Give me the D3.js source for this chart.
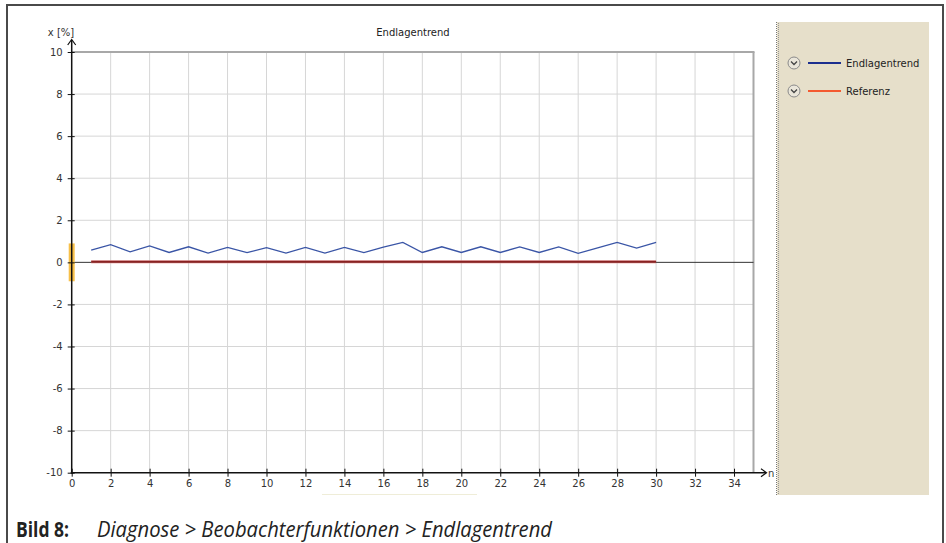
<!DOCTYPE html>
<html><head><meta charset="utf-8">
<script src="https://cdn.jsdelivr.net/npm/d3@7"></script>
<style>html,body{margin:0;padding:0;background:#fff;}svg{display:block;}</style>
</head><body>
<svg id="c" width="946" height="543"></svg>
<script>
const nValues = [1,2,3,4,5,6,7,8,9,10,11,12,13,14,15,16,17,18,19,20,21,22,23,24,25,26,27,28,29,30];
const endlagentrend = [0.58,0.84,0.50,0.78,0.47,0.74,0.44,0.71,0.46,0.70,0.44,0.71,0.44,0.71,0.46,0.72,0.95,0.47,0.74,0.47,0.74,0.47,0.73,0.47,0.73,0.43,0.69,0.95,0.68,0.95];
const referenz = [0.03,0.03,0.03,0.03,0.03,0.03,0.03,0.03,0.03,0.03,0.03,0.03,0.03,0.03,0.03,0.03,0.03,0.03,0.03,0.03,0.03,0.03,0.03,0.03,0.03,0.03,0.03,0.03,0.03,0.03];
const xTicks = [0,2,4,6,8,10,12,14,16,18,20,22,24,26,28,30,32,34];
const yTicks = [-10,-8,-6,-4,-2,0,2,4,6,8,10];
const xDomain = [0,35];
const yDomain = [-10,10];
const bandRange = [-0.9,0.9];
const seriesNames = ["Endlagentrend","Referenz"];
const chartTitle = "Endlagentrend";
const yLabel = "x [%]";
const xLabel = "n";
const captionBold = "Bild 8:";
const captionText = "Diagnose > Beobachterfunktionen > Endlagentrend";

const svg = d3.select("#c");
const font = "'DejaVu Sans', Verdana, sans-serif";
const x = d3.scaleLinear().domain(xDomain).range([71.7, 753.5]);
const y = d3.scaleLinear().domain(yDomain).range([472.7, 52]);
const fmt = d => String(d);

// outer frame
svg.append("path").attr("d","M7,543 V5 H943 V543").attr("fill","none").attr("stroke","#4a4a4a").attr("stroke-width",2);

// right beige panel
svg.append("rect").attr("x",777).attr("y",22).attr("width",152).attr("height",473).attr("fill","#e6dfca");
svg.append("line").attr("x1",776.5).attr("x2",776.5).attr("y1",22).attr("y2",495).attr("stroke","#777").attr("stroke-width",1).attr("stroke-dasharray","1,1");
svg.append("line").attr("x1",778.5).attr("x2",778.5).attr("y1",22).attr("y2",495).attr("stroke","#999").attr("stroke-width",1).attr("stroke-dasharray","1,1").attr("stroke-dashoffset",1);

// grid
const g = svg.append("g");
g.selectAll("line.vg").data(xTicks.filter(d=>d>0)).join("line")
  .attr("x1",d=>x(d)).attr("x2",d=>x(d)).attr("y1",y(10)).attr("y2",y(-10))
  .attr("stroke","#d6d6d6").attr("stroke-width",1);
g.selectAll("line.hg").data(yTicks.filter(d=>d>-10 && d<10 && d!==0)).join("line")
  .attr("x1",x(0)).attr("x2",x(35)).attr("y1",d=>y(d)).attr("y2",d=>y(d))
  .attr("stroke","#d6d6d6").attr("stroke-width",1);
// top & right border of plot
g.append("line").attr("x1",x(0)).attr("x2",x(35)+1).attr("y1",y(10)).attr("y2",y(10)).attr("stroke","#a8a8a8").attr("stroke-width",2);
g.append("line").attr("x1",x(35)).attr("x2",x(35)).attr("y1",y(10)).attr("y2",y(-10)).attr("stroke","#a8a8a8").attr("stroke-width",2);

// zero line
g.append("line").attr("x1",x(0)).attr("x2",x(35)).attr("y1",y(0)).attr("y2",y(0)).attr("stroke","#333").attr("stroke-width",1);

// band marker at x=0
g.append("rect").attr("x",x(0)-3).attr("width",6).attr("y",y(bandRange[1])).attr("height",y(bandRange[0])-y(bandRange[1]))
  .attr("fill","#f7c04a");

// axes
const yAxis = svg.append("g").attr("transform",`translate(${x(0)},0)`)
  .call(d3.axisLeft(y).tickValues(yTicks).tickSize(4).tickPadding(5).tickFormat(fmt));
yAxis.select(".domain").remove();
yAxis.selectAll(".tick line").attr("x1",3).attr("x2",-4).attr("stroke","#111");
yAxis.selectAll(".tick text").attr("font-family",font).attr("font-size",10).attr("fill","#333");

const xAxis = svg.append("g").attr("transform",`translate(0,${y(-10)})`)
  .call(d3.axisBottom(x).tickValues(xTicks).tickSize(4).tickPadding(3).tickFormat(fmt));
xAxis.select(".domain").remove();
xAxis.selectAll(".tick line").attr("y1",-4).attr("y2",4).attr("stroke","#111");
xAxis.selectAll(".tick text").attr("font-family",font).attr("font-size",10).attr("fill","#333");

// axis lines with arrows
svg.append("line").attr("x1",x(0)).attr("x2",x(0)).attr("y1",y(-10)+1).attr("y2",40).attr("stroke","#111").attr("stroke-width",1.5);
svg.append("path").attr("d",`M${x(0)-4},45 L${x(0)},39.5 L${x(0)+4},45`).attr("fill","none").attr("stroke","#111").attr("stroke-width",1.2);
svg.append("line").attr("x1",x(0)-1).attr("x2",766).attr("y1",y(-10)).attr("y2",y(-10)).attr("stroke","#111").attr("stroke-width",1.5);
svg.append("path").attr("d",`M761,${y(-10)-4} L766.5,${y(-10)} L761,${y(-10)+4}`).attr("fill","none").attr("stroke","#111").attr("stroke-width",1.2);

svg.append("text").attr("x",61).attr("y",36).attr("text-anchor","middle").attr("font-family",font).attr("font-size",10).attr("fill","#333").text(yLabel);
svg.append("text").attr("x",768).attr("y",y(-10)+4).attr("font-family",font).attr("font-size",10).attr("fill","#333").text(xLabel);
svg.append("text").attr("x",413).attr("y",36).attr("text-anchor","middle").attr("font-family",font).attr("font-size",10).attr("fill","#222").text(chartTitle);

// series
const line = d3.line().x((d,i)=>x(nValues[i])).y(d=>y(d));
svg.append("path").datum(referenz).attr("d",line).attr("fill","none").attr("stroke","#e8a0a0").attr("stroke-width",3.5).attr("opacity",0.7);
svg.append("path").datum(referenz).attr("d",line).attr("fill","none").attr("stroke","#8a2222").attr("stroke-width",2);
svg.append("path").datum(endlagentrend).attr("d",line).attr("fill","none").attr("stroke","#3a55a6").attr("stroke-width",1.3);

// faint line below axis
svg.append("line").attr("x1",322).attr("x2",477).attr("y1",494.5).attr("y2",494.5).attr("stroke","#efedd8").attr("stroke-width",1);

// legend
const legColors = ["#1c2f8f","#f45a30"];
const leg = svg.append("g");
seriesNames.forEach((name,i)=>{
  const cy = 63 + i*28;
  leg.append("circle").attr("cx",794).attr("cy",cy).attr("r",6).attr("fill","#eae6da").attr("stroke","#8a8a8a").attr("stroke-width",1);
  leg.append("path").attr("d",`M791,${cy-1.5} L794,${cy+1.5} L797,${cy-1.5}`).attr("fill","none").attr("stroke","#444").attr("stroke-width",1.3);
  leg.append("line").attr("x1",808).attr("x2",841).attr("y1",cy).attr("y2",cy).attr("stroke",legColors[i]).attr("stroke-width",2);
  leg.append("text").attr("x",846).attr("y",cy+3.5).attr("font-family",font).attr("font-size",10).attr("fill","#222").text(name);
});

// caption
svg.append("text").attr("x",16).attr("y",537).attr("font-family","'Open Sans', sans-serif").attr("font-weight","bold").attr("font-size",21)
  .attr("fill","#222").attr("textLength",53).attr("lengthAdjust","spacingAndGlyphs").text(captionBold);
svg.append("text").attr("x",97).attr("y",537).attr("font-family","'Open Sans', sans-serif").attr("font-style","italic").attr("font-size",21)
  .attr("fill","#222").attr("textLength",455).attr("lengthAdjust","spacingAndGlyphs").text(captionText);
</script>
</body></html>
